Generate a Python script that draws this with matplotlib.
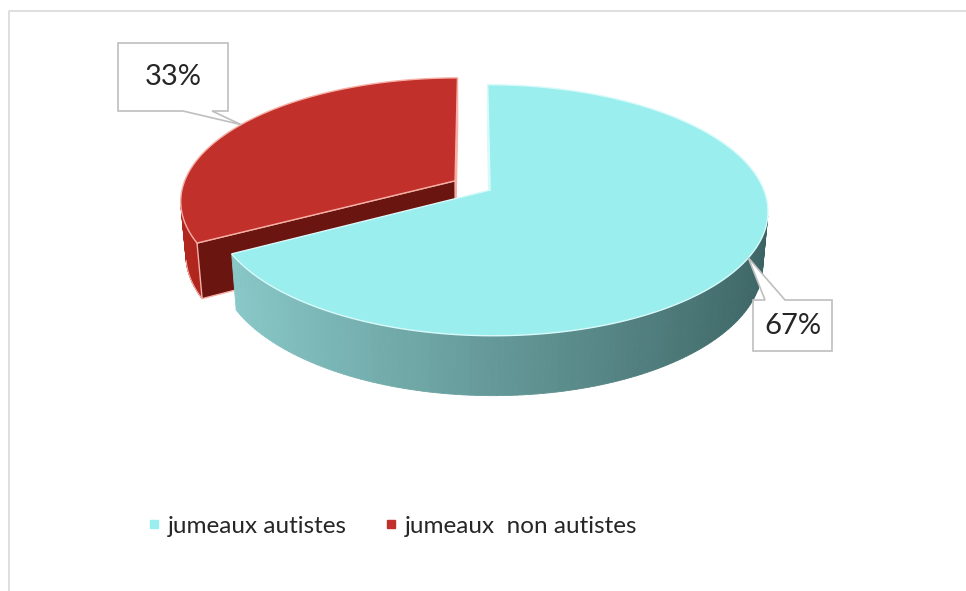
import numpy as np
import matplotlib.pyplot as plt
from matplotlib.patches import Polygon
from matplotlib.lines import Line2D

plt.rcParams["font.family"] = ["Lato", "DejaVu Sans"]

labels = ["jumeaux autistes", "jumeaux  non autistes"]
values = [67, 33]
pct_text = ["67%", "33%"]
top_col = ["#9AEEEE", "#C1302A"]
side_light = ["#8FD0D0", "#B2271F"]
side_dark = ["#3B6262", "#8A1C17"]
cut_col = ["#5E9A9A", "#6B1511"]
edge_col = ["#D8FAFA", "#F6B0A6"]
# callout boxes (x0, y0, x1, y1) and tail base on the box edge
boxes = [(753, 300, 832, 351), (118, 43, 228, 111)]
tails = [((765, 300), (785, 300)), ((212, 111), (183, 111))]

W, H = 966, 591
fig = plt.figure(figsize=(W / 100, H / 100), dpi=100)
ax = fig.add_axes([0, 0, 1, 1])
ax.set_xlim(0, W)
ax.set_ylim(H, 0)
ax.axis("off")

# simple perspective camera looking down at the pie
SIN = 0.444
COS = np.sqrt(1 - SIN ** 2)
DIST = 5.6
SCALE = 272
X0, Y0 = 472.5, 185.4
THICK = 0.22
EXPLODE = 0.075
cam = np.array([0, -DIST * COS, DIST * SIN])


def proj(x, y, z):
    x, y, z = np.asarray(x, float), np.asarray(y, float), np.asarray(z, float)
    k = DIST / (DIST + y * COS - z * SIN)
    return X0 + SCALE * x * k, Y0 - SCALE * (y * SIN + z * COS) * k


def facing(p, n):
    return np.dot(cam - p, n) > 0


def mix(c1, c2, t):
    a = np.array(plt.matplotlib.colors.to_rgb(c1))
    b = np.array(plt.matplotlib.colors.to_rgb(c2))
    return tuple(a + (b - a) * t)


total = sum(values)
cum = np.cumsum([0] + values)
anchors = []
# red slice sits behind, draw it first
for i in [1, 0]:
    a2 = np.radians(90 - cum[i] / total * 360)
    a1 = np.radians(90 - cum[i + 1] / total * 360)
    mid = (a1 + a2) / 2
    ox, oy = EXPLODE * np.cos(mid), EXPLODE * np.sin(mid)
    th = np.linspace(a1, a2, 200)

    # outer rim, strip by strip, shaded by direction
    for j in range(len(th) - 1):
        m = (th[j] + th[j + 1]) / 2
        n = np.array([np.cos(m), np.sin(m), 0])
        p = np.array([ox + np.cos(m), oy + np.sin(m), -THICK / 2])
        if not facing(p, n):
            continue
        xs = ox + np.cos([th[j], th[j + 1], th[j + 1], th[j]])
        ys = oy + np.sin([th[j], th[j + 1], th[j + 1], th[j]])
        zs = [0, 0, -THICK, -THICK]
        px, py = proj(xs, ys, zs)
        c = mix(side_light[i], side_dark[i], (1 + np.cos(m)) / 2)
        ax.add_patch(Polygon(np.c_[px, py], closed=True, fc=c, ec=c, lw=0.6))

    # radial cut faces
    for ang, nang in [(a1, a1 - np.pi / 2), (a2, a2 + np.pi / 2)]:
        n = np.array([np.cos(nang), np.sin(nang), 0])
        p = np.array([ox + 0.5 * np.cos(ang), oy + 0.5 * np.sin(ang), -THICK / 2])
        if not facing(p, n):
            continue
        xs = [ox, ox + np.cos(ang), ox + np.cos(ang), ox]
        ys = [oy, oy + np.sin(ang), oy + np.sin(ang), oy]
        zs = [0, 0, -THICK, -THICK]
        px, py = proj(xs, ys, zs)
        ax.add_patch(Polygon(np.c_[px, py], closed=True, fc=cut_col[i],
                             ec=edge_col[i], lw=1.0))

    # top face
    xs = np.r_[ox, ox + np.cos(th)]
    ys = np.r_[oy, oy + np.sin(th)]
    px, py = proj(xs, ys, np.zeros_like(xs))
    ax.add_patch(Polygon(np.c_[px, py], closed=True, fc=top_col[i],
                         ec=edge_col[i], lw=1.0))
    if i == 1:
        # lower edge of the red rim
        rim = th[np.sin(th) < -0.2]
        if len(rim):
            bx, by = proj(ox + np.cos(rim), oy + np.sin(rim), -THICK * np.ones_like(rim))
            ax.plot(bx, by, color=edge_col[i], lw=0.8)

    anchors.append((i, proj(ox + np.cos(mid), oy + np.sin(mid), 0)))

# callouts with a pointer to the rim
for i, (ax_, ay_) in anchors:
    x0, y0, x1, y1 = boxes[i]
    (b1x, b1y), (b2x, b2y) = tails[i]
    tip = (float(ax_), float(ay_))
    if b1y == y0:
        pts = [(x0, y0), (b1x, b1y), tip, (b2x, b2y), (x1, y0), (x1, y1), (x0, y1)]
    else:
        pts = [(x0, y0), (x1, y0), (x1, y1), (b1x, b1y), tip, (b2x, b2y), (x0, y1)]
    ax.add_patch(Polygon(pts, closed=True, fc="white", ec="#BFBFBF", lw=1.2, zorder=5))
    ax.text((x0 + x1) / 2, (y0 + y1) / 2, pct_text[i], ha="center", va="center",
            fontsize=21, color="#262626", zorder=6)

# legend
handles = [Line2D([], [], ls="", marker="s", ms=6, color=c) for c in top_col]
leg = ax.legend(handles, labels, loc="center left", bbox_to_anchor=(126 / W, 1 - 526 / H),
                ncol=2, frameon=False, fontsize=17.5, handlelength=0.5, handletextpad=0.32,
                columnspacing=1.55, labelcolor="#262626")

# thin outer frame
ax.plot([9, 9, W], [H, 11, 11], color="#D9D9D9", lw=1.2)

fig.savefig("out.png", dpi=100)
